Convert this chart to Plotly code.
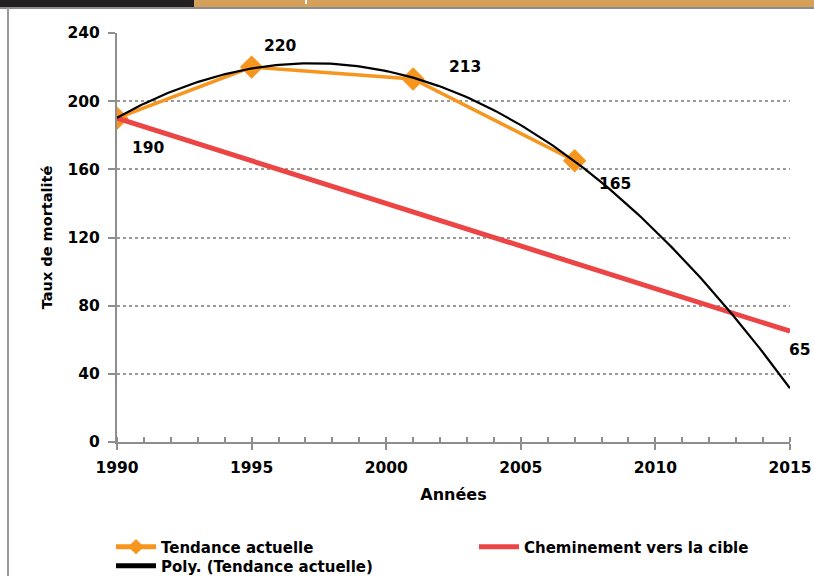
import numpy as np
import plotly.graph_objects as go

# Data
years_actual = [1990, 1995, 2001, 2007]
rate_actual = [190, 220, 213, 165]
years_target = [1990, 2015]
rate_target = [190, 65]
y_ticks = [0, 40, 80, 120, 160, 200, 240]
x_ticks = [1990, 1995, 2000, 2005, 2010, 2015]

# Polynomial (order 2) trend of the current trend, extended to 2015
coef = np.polyfit(years_actual, rate_actual, 2)
poly_x = np.linspace(1990, 2015, 200)
poly_y = np.polyval(coef, poly_x)

W, H = 814, 576
L, R, T, B = 117, 24, 33, 134
pw, ph = W - L - R, H - T - B

def px_x(p):
    return (p - L) / pw

def px_y(p):
    return (H - B - p) / ph

FONT = "DejaVu Sans, Verdana, sans-serif"
ORANGE = "#F7961E"
RED = "#EC4545"
GRAY = "#8E8E8E"

fig = go.Figure()
fig.add_trace(go.Scatter(
    x=years_actual, y=rate_actual, mode="lines+markers",
    name="Tendance actuelle", legend="legend",
    line=dict(color=ORANGE, width=3.5),
    marker=dict(symbol="diamond", size=18, color=ORANGE),
))
fig.add_trace(go.Scatter(
    x=years_target, y=rate_target, mode="lines",
    name="Cheminement vers la cible", legend="legend2",
    line=dict(color=RED, width=5),
))
fig.add_trace(go.Scatter(
    x=poly_x, y=poly_y, mode="lines",
    name="Poly. (Tendance actuelle)", legend="legend3",
    line=dict(color="black", width=2.2),
))

lab_font = dict(family=FONT, size=15.5, color="black", weight="bold")

# Data labels
label_offsets = [(31, -30), (29, 21), (52, 12), (40, -23)]
for x, y, (dx, dy) in zip(years_actual, rate_actual, label_offsets):
    fig.add_annotation(x=x, y=y, text=str(y), showarrow=False,
                       xshift=dx, yshift=dy, font=lab_font)
fig.add_annotation(x=years_target[-1], y=rate_target[-1], text=str(rate_target[-1]),
                   showarrow=False, xshift=10, yshift=-19, font=lab_font)

# Header bar and frame
shapes = [
    dict(type="rect", xref="paper", yref="paper",
         x0=px_x(0), x1=px_x(194), y0=px_y(0), y1=px_y(7),
         fillcolor="#231F20", line=dict(width=0), layer="above"),
    dict(type="rect", xref="paper", yref="paper",
         x0=px_x(194), x1=px_x(814), y0=px_y(0), y1=px_y(7),
         fillcolor="#D4A05A", line=dict(width=0), layer="above"),
    dict(type="line", xref="paper", yref="paper",
         x0=px_x(0), x1=px_x(814), y0=px_y(8), y1=px_y(8),
         line=dict(color="#8C8C8C", width=2)),
    dict(type="line", xref="paper", yref="paper",
         x0=px_x(8), x1=px_x(8), y0=px_y(8), y1=px_y(576),
         line=dict(color="#9A9A9A", width=2)),
    dict(type="rect", xref="paper", yref="paper",
         x0=px_x(305), x1=px_x(307), y0=px_y(0), y1=px_y(4),
         fillcolor="white", line=dict(width=0), layer="above"),
]

leg_font = dict(family=FONT, size=15, color="black", weight="bold")

def leg(xp, yp):
    return dict(orientation="v", x=px_x(xp), y=px_y(yp), xanchor="left", yanchor="middle",
                font=leg_font, bgcolor="rgba(0,0,0,0)", tracegroupgap=0,
                itemsizing="constant", itemwidth=40)

fig.update_layout(
    width=W, height=H,
    margin=dict(l=L, r=R, t=T, b=B, autoexpand=False),
    paper_bgcolor="white", plot_bgcolor="white",
    font=dict(family=FONT, color="black"),
    shapes=shapes,
    showlegend=True,
    legend=leg(111, 547),
    legend2=leg(474, 547),
    legend3=leg(111, 566),
    xaxis=dict(
        range=[1990, 2015], tickvals=x_ticks, showgrid=False, zeroline=False,
        showline=True, linecolor=GRAY, linewidth=2,
        ticks="outside", ticklen=6, tickwidth=2, tickcolor=GRAY,
        tickfont=lab_font,
        ticklabelstandoff=4,
        minor=dict(dtick=1, ticks="inside", ticklen=5, tickwidth=1.5, tickcolor=GRAY, showgrid=False),
        title=dict(text="Années", font=dict(family=FONT, size=16, color="black", weight="bold"), standoff=13),
    ),
    yaxis=dict(
        range=[0, 240], tickvals=y_ticks, zeroline=False,
        showgrid=True, gridcolor="#9A9A9A", gridwidth=2, griddash="dot",
        showline=True, linecolor=GRAY, linewidth=2,
        ticks="outside", ticklen=7, tickwidth=2, tickcolor=GRAY,
        tickfont=lab_font,
        ticklabelstandoff=5,
        title=dict(text="Taux de mortalité", font=dict(family=FONT, size=14.5, color="black", weight="bold"), standoff=11),
    ),
)

fig.write_html("out.html", config={"displayModeBar": False},
               post_script="document.body.style.margin='0';document.body.style.overflow='hidden';")
